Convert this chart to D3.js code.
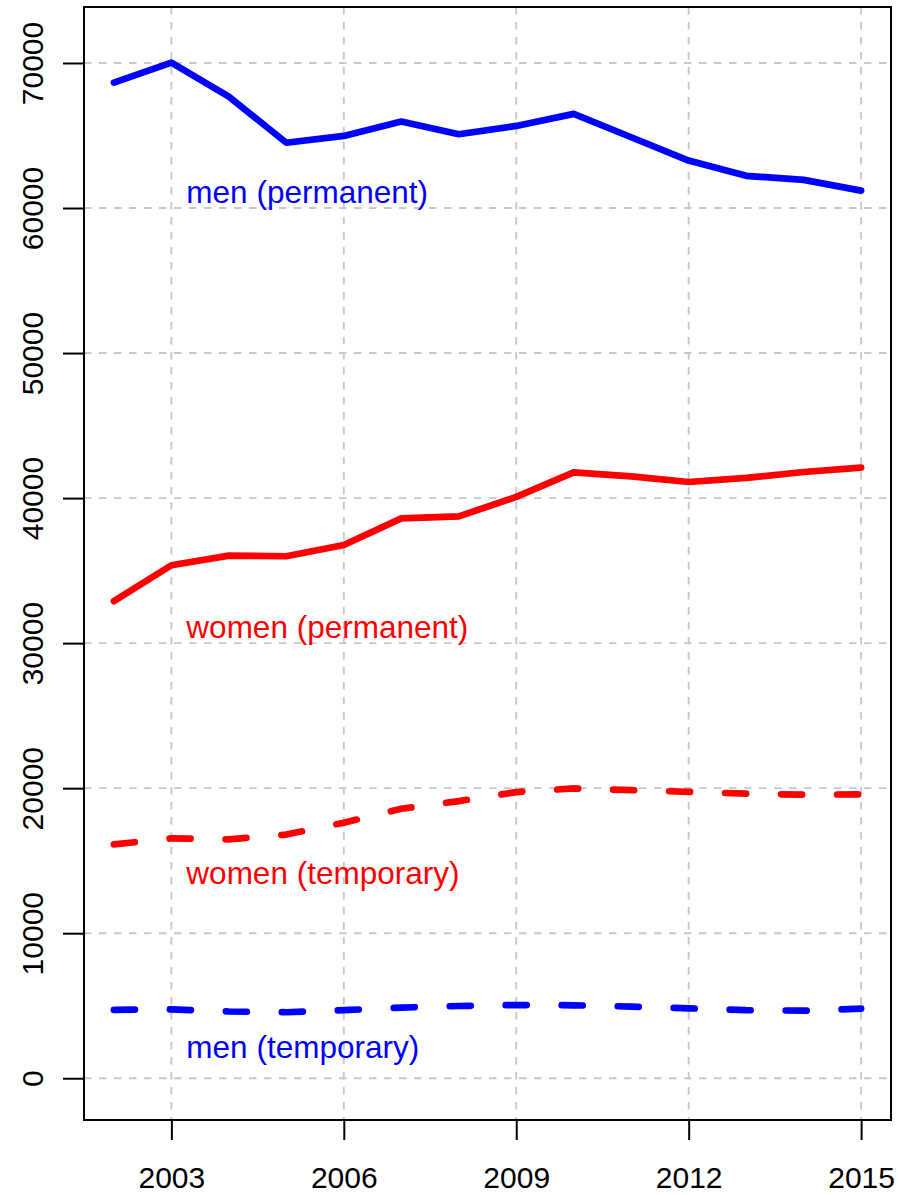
<!DOCTYPE html>
<html>
<head>
<style>
  body { margin: 0; background: #fff; }
  svg text { font-family: "Liberation Sans", Arial, sans-serif; }
</style>
</head>
<body>
<div id="chart"></div>
<script src="https://d3js.org/d3.v7.min.js"></script>
<script>
const years = [2002, 2003, 2004, 2005, 2006, 2007, 2008, 2009, 2010, 2011, 2012, 2013, 2014, 2015];
const menPermanent = [68650, 70030, 67680, 64500, 64970, 65960, 65090, 65660, 66490, 64880, 63270, 62220, 61940, 61200];
const womenPermanent = [32890, 35370, 36030, 35990, 36770, 38600, 38740, 40080, 41770, 41500, 41110, 41390, 41800, 42100];
const womenTemporary = [16120, 16540, 16470, 16800, 17620, 18580, 19110, 19730, 19980, 19860, 19750, 19620, 19550, 19570];
const menTemporary = [4710, 4750, 4600, 4550, 4690, 4870, 4980, 5050, 5030, 4940, 4820, 4690, 4660, 4800];
const xTicks = [2003, 2006, 2009, 2012, 2015];
const yTicks = [0, 10000, 20000, 30000, 40000, 50000, 60000, 70000];
const labels = ["men (permanent)", "women (permanent)", "women (temporary)", "men (temporary)"];
const labelY = [61000, 31000, 14000, 2000];

const width = 899, height = 1195;
const margin = { top: 7, right: 8, bottom: 75, left: 84 };

const svg = d3.select("#chart").append("svg")
  .attr("width", width)
  .attr("height", height);

const x = d3.scaleLinear()
  .domain([2001.48, 2015.52])
  .range([margin.left, width - margin.right]);

const y = d3.scaleLinear()
  .domain([-2880, 73860])
  .range([height - margin.bottom, margin.top]);

// grid
const grid = svg.append("g")
  .attr("stroke", "#c8c8c8")
  .attr("stroke-width", 1.9)
  .attr("stroke-dasharray", "7.5,7.5");
grid.selectAll(".gx").data(xTicks).join("line")
  .attr("x1", d => x(d)).attr("x2", d => x(d))
  .attr("y1", margin.top).attr("y2", height - margin.bottom);
grid.selectAll(".gy").data(yTicks).join("line")
  .attr("y1", d => y(d)).attr("y2", d => y(d))
  .attr("x1", margin.left).attr("x2", width - margin.right);

// series
const series = [
  { values: menPermanent, color: "#0000ff", dash: null },
  { values: womenPermanent, color: "#ff0000", dash: null },
  { values: womenTemporary, color: "#ff0000", dash: "21,35" },
  { values: menTemporary, color: "#0000ff", dash: "21,35" }
];

const line = d3.line()
  .x((d, i) => x(years[i]))
  .y(d => y(d));

series.forEach(s => {
  svg.append("path")
    .datum(s.values)
    .attr("fill", "none")
    .attr("stroke", s.color)
    .attr("stroke-width", 6.7)
    .attr("stroke-linejoin", "round")
    .attr("stroke-linecap", "round")
    .attr("stroke-dasharray", s.dash)
    .attr("d", line);
});

// labels
svg.append("g").selectAll("text")
  .data(labels)
  .join("text")
    .attr("x", x(2003) + 15)
    .attr("y", (d, i) => y(labelY[i]) + 9)
    .attr("fill", (d, i) => series[i].color)
    .attr("font-size", "31.5px")
    .text(d => d);

// axes
function xAxis(g) {
  g.attr("transform", `translate(0,${height - margin.bottom})`)
    .call(d3.axisBottom(x).tickValues(xTicks).tickFormat(d3.format("d")).tickSize(20))
    .call(g => g.select(".domain").remove())
    .attr("font-size", "30px")
    .attr("font-family", "Liberation Sans, Arial, sans-serif");
  g.selectAll(".tick line").attr("stroke", "#000").attr("stroke-width", 2);
  g.selectAll(".tick text").attr("fill", "#000").attr("dy", 0).attr("y", 68);
}

function yAxis(g) {
  g.attr("transform", `translate(${margin.left},0)`)
    .call(d3.axisLeft(y).tickValues(yTicks).tickFormat(d3.format("d")).tickSize(21))
    .call(g => g.select(".domain").remove())
    .attr("font-size", "30px")
    .attr("font-family", "Liberation Sans, Arial, sans-serif");
  g.selectAll(".tick line").attr("stroke", "#000").attr("stroke-width", 2);
  g.selectAll(".tick text")
    .attr("fill", "#000")
    .attr("x", null).attr("dy", null)
    .attr("text-anchor", "middle")
    .attr("transform", "translate(-41,0) rotate(-90)");
}

svg.append("g").call(xAxis);
svg.append("g").call(yAxis);

// box
svg.append("rect")
  .attr("x", margin.left)
  .attr("y", margin.top)
  .attr("width", width - margin.left - margin.right)
  .attr("height", height - margin.top - margin.bottom)
  .attr("fill", "none")
  .attr("stroke", "#000")
  .attr("stroke-width", 2);
</script>
</body>
</html>
